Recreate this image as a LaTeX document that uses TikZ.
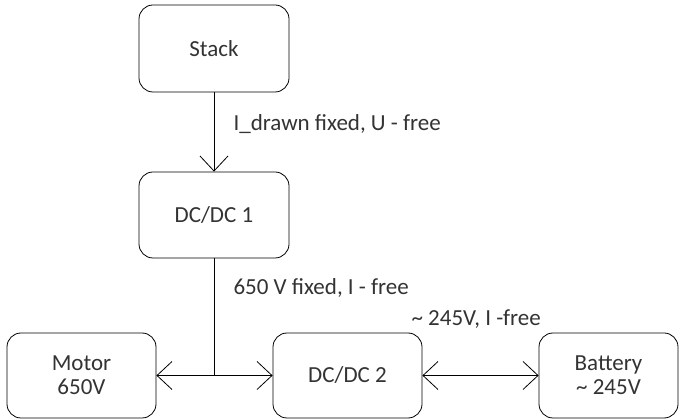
\documentclass[tikz,border=0pt]{standalone}
\usepackage{fontspec}
\setmainfont{Carlito}
\usetikzlibrary{arrows.meta}
\tikzset{
    block/.style={draw, thick, rounded corners=14pt, align=center,
        text=black!80, font=\fontsize{23}{24}\selectfont},
    note/.style={anchor=west, text=black!80, font=\fontsize{23}{24}\selectfont},
    link/.style={thick, arrows={Straight Barb[length=15pt,width=28pt]-Straight Barb[length=15pt,width=28pt]}}
}
\begin{document}
\begin{tikzpicture}[x=1pt, y=1pt]

    \useasboundingbox (0,0) rectangle (680,420);

    % Blocks
    \node[block, minimum width=150pt, minimum height=87pt] (stack) at (214,371.5) {Stack};
    \node[block, minimum width=150pt, minimum height=86pt] (dcdc1) at (214,205) {DC/DC 1};
    \node[block, minimum width=149pt, minimum height=85pt] (motor) at (81.5,44.5) {Motor\\650V};
    \node[block, minimum width=149pt, minimum height=85pt] (dcdc2) at (347.5,44.5) {DC/DC 2};
    \node[block, minimum width=139pt, minimum height=85pt] (battery) at (608.5,44.5) {Battery\\\textasciitilde{} 245V};

    % Connections
    \draw[thick, -{Straight Barb[length=15pt,width=28pt]}] (stack) -- (dcdc1);
    \draw[link] (motor.east) -- (dcdc2.west);
    \draw[thick] (dcdc1.south) -- (dcdc1.south |- motor.east);
    \draw[link] (dcdc2) -- (battery);

    % Labels
    \node[note] (lstack) at (230,296) {I\_drawn fixed, U - free};
    \node[note] (ldcdc1) at (230,132) {650 V fixed, I - free};
    \node[note] (lbatt) at (408,101) {\textasciitilde{} 245V, I -free};

\end{tikzpicture}
\end{document}
